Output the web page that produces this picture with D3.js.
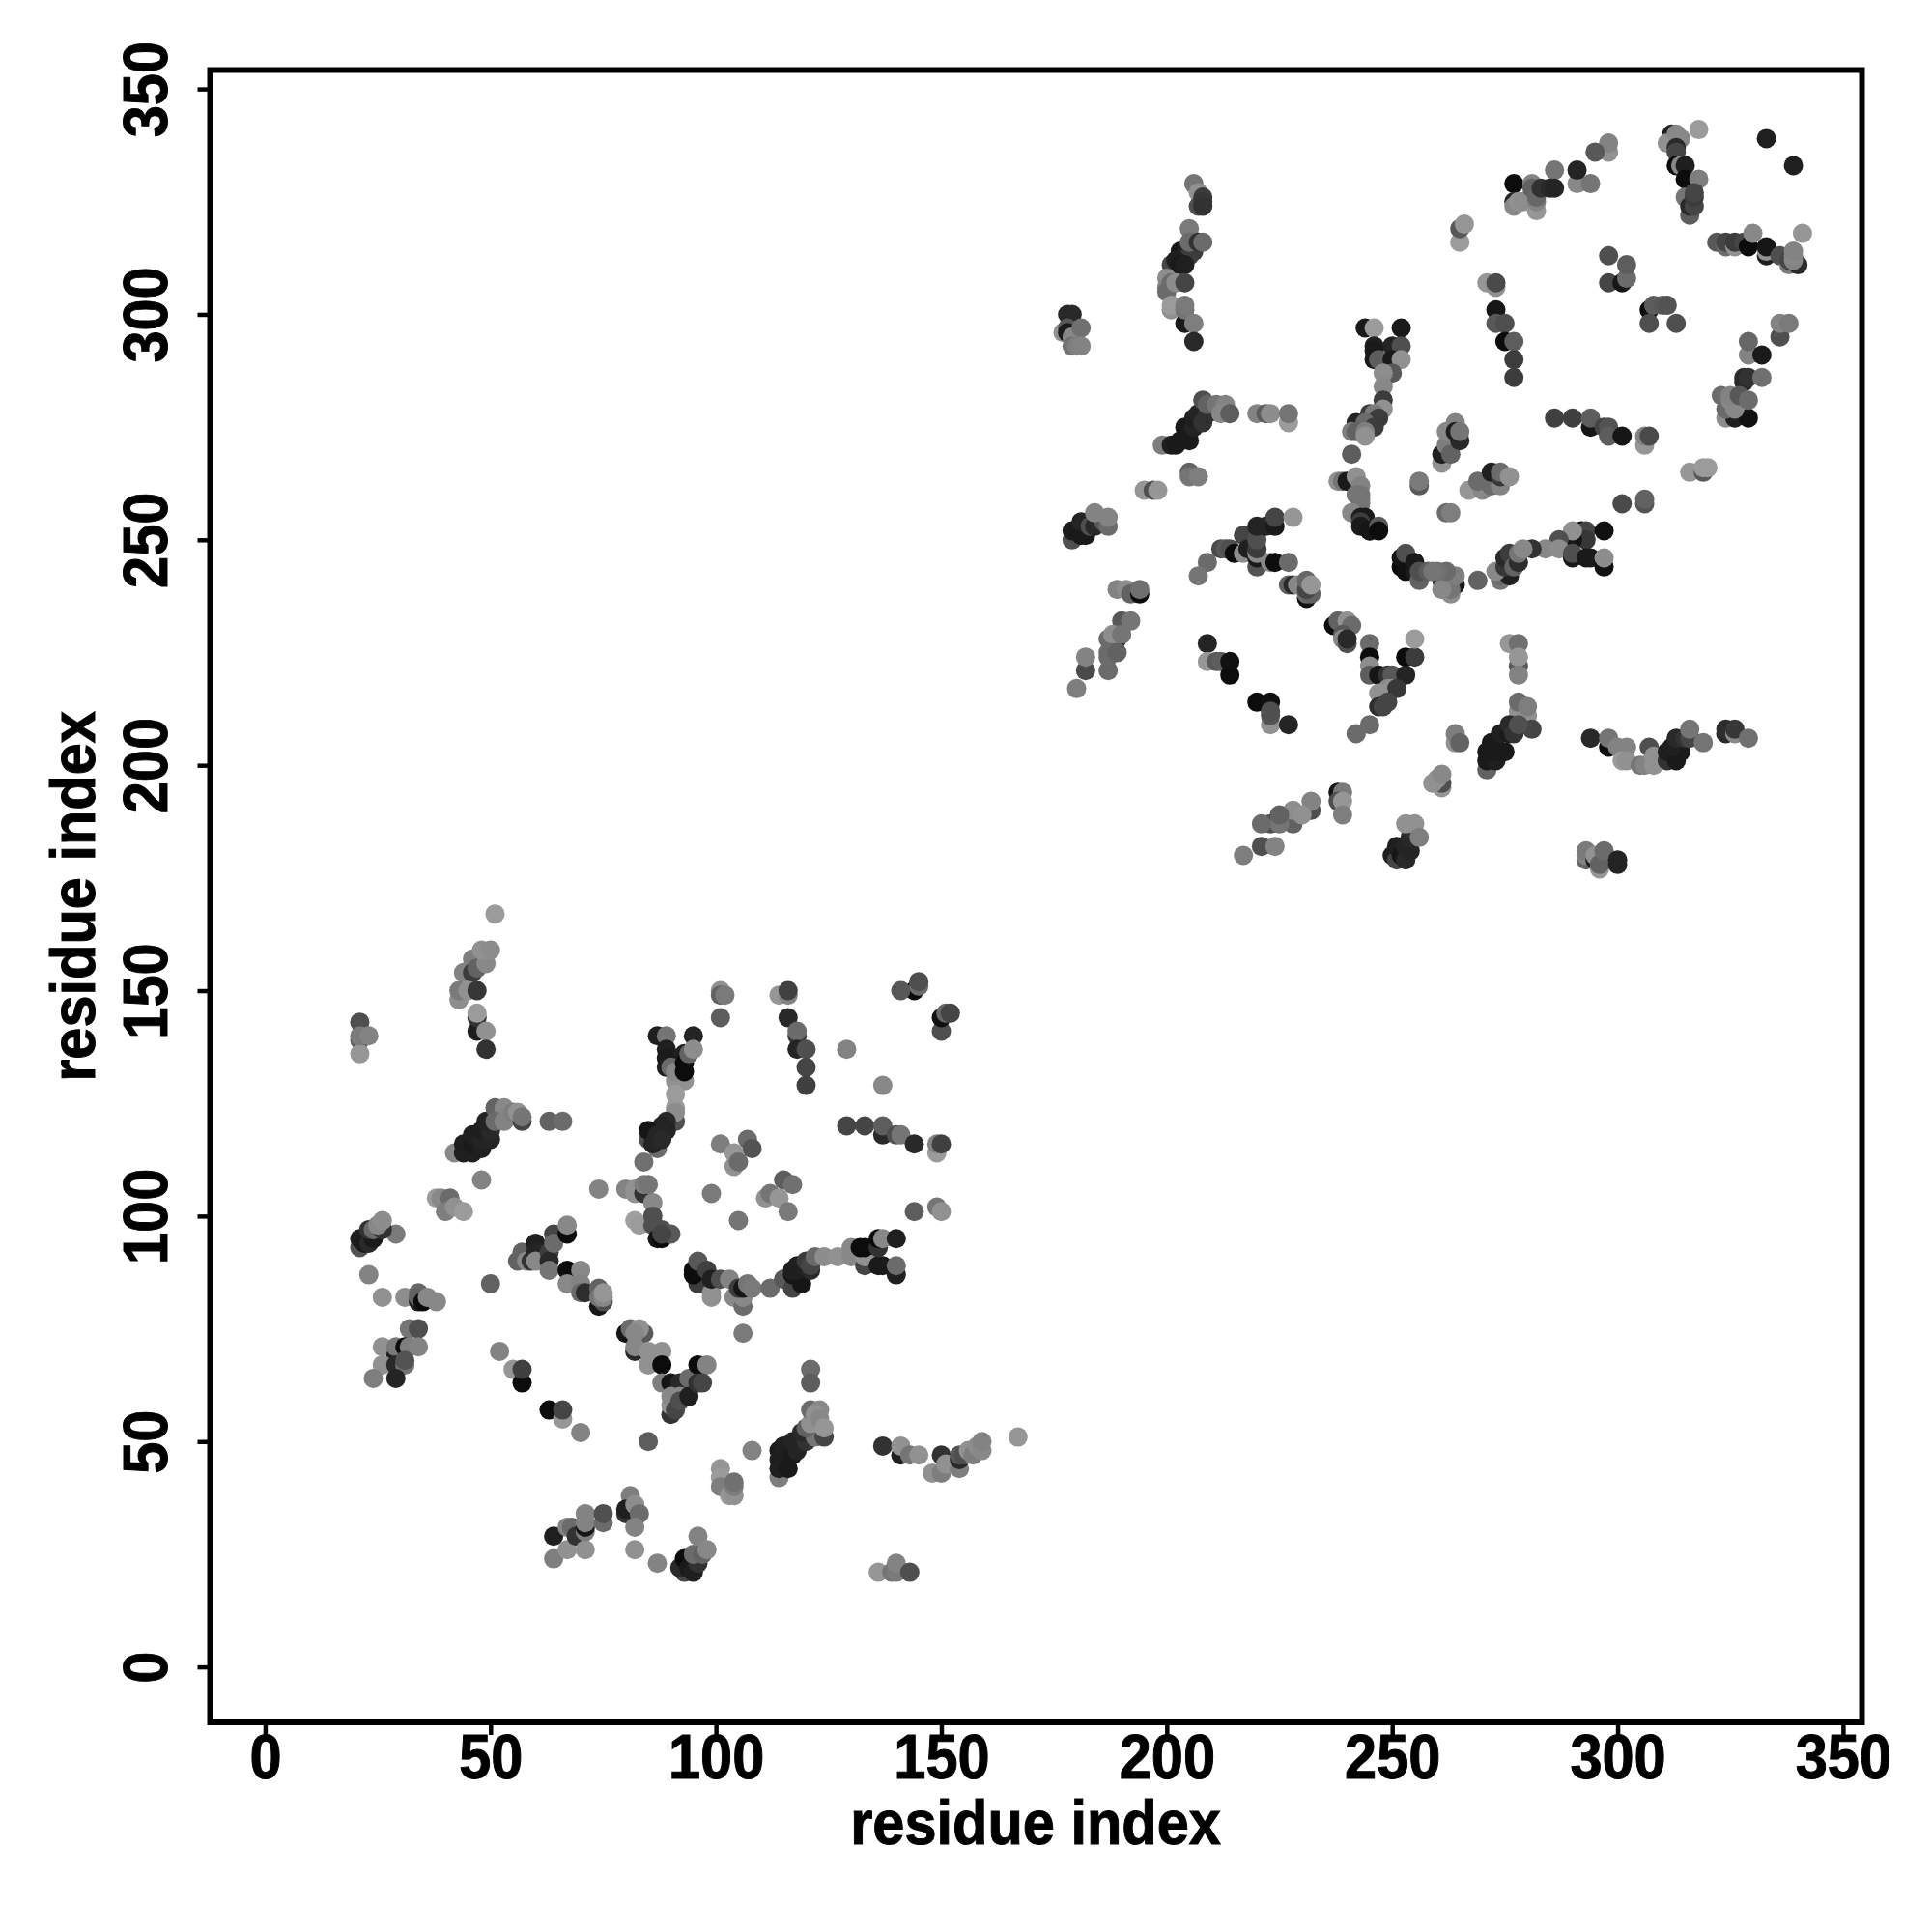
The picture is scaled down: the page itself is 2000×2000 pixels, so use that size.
<!DOCTYPE html>
<html><head><meta charset="utf-8">
<script src="https://cdn.jsdelivr.net/npm/d3@7"></script>
<style>html,body{margin:0;background:#fff}svg{display:block}text{font-family:"Liberation Sans",Arial,sans-serif;font-weight:700;fill:#000;stroke:#000;stroke-width:1px}</style>
</head><body><svg id="c" width="2000" height="2000"></svg>
<script>
const axisTicks=[0,50,100,150,200,250,300,350];
const axisTitle="residue index";
// each row: [residue x, residue y, grey level]
const domainAUpper=[[51,167,150],[46,157,120],[44,154,125],[46,154,50],[47,155,90],[49,156,130],[48,159,140],[50,159,135],[43,148,135],[43,150,115],[45,150,140],[47,150,45],[47,141,20],[47,144,40],[47,145,150],[49,141,140],[49,137,40],[21,143,70],[21,139,90],[21,136,145],[21,140,115],[23,140,125]];
const domainAHelix=[[42,114,130],[44,114,20],[46,114,20],[44,116,20],[46,116,15],[48,115,20],[46,118,20],[48,117,25],[48,119,20],[50,117,25],[50,119,30],[49,121,25],[51,124,90],[53,124,130],[51,121,100],[53,121,125],[55,123,120],[57,121,60],[56,123,140],[57,122,110],[63,121,90],[66,121,100]];
const domainAStrand=[[87,140,20],[89,140,110],[95,140,25],[89,137,20],[89,135,15],[89,133,20],[90,133,100],[93,130,140],[91,130,140],[91,132,130],[93,136,20],[93,134,0],[93,132,0],[94,136,90],[95,137,135],[91,127,150],[91,124,150],[91,121,70],[91,123,135],[85,117,70],[89,121,30],[88,120,25],[85,119,10],[89,119,25],[87,118,25],[87,115,100],[86,116,25],[88,117,30],[84,112,105],[74,106,125],[80,106,125],[82,106,140],[82,105,140],[84,105,40],[84,107,120],[85,107,110],[82,99,155],[83,98,150],[86,103,130],[86,100,70],[86,98,70],[87,95,10],[88,95,0],[88,97,70],[90,96,80],[88,96,60],[48,108,125],[38,104,150],[39,104,130],[41,104,100],[40,101,120],[42,102,140],[44,101,150],[29,96,115],[21,93,75],[21,95,20],[22,94,15],[23,94,30],[24,95,15],[23,97,40],[24,97,100],[26,97,40],[25,98,130],[26,99,135]];
const domainACentre=[[56,90,90],[57,92,90],[58,90,130],[59,90,40],[60,94,20],[60,92,25],[60,90,130],[64,96,60],[63,92,50],[63,90,30],[63,88,110],[64,94,100],[67,96,0],[67,98,130],[23,87,125],[26,82,140],[31,82,135],[34,81,20],[34,83,95],[34,82,90],[35,81,0],[36,82,130],[38,81,130],[32,75,110],[34,75,70],[26,71,140],[29,69,20],[29,71,115],[31,71,0],[32,71,120],[34,71,125],[26,67,140],[29,67,30],[31,67,110],[31,68,75],[29,64,25],[24,64,120],[50,85,90],[52,70,125],[55,66,145],[57,63,0],[57,66,55],[63,57,0],[66,55,145],[66,57,60],[70,52,125],[85,50,85],[67,88,0],[70,88,130],[67,85,130],[70,85,125],[70,83,100],[71,83,35],[74,84,90],[74,80,10],[75,81,70],[74,82,110],[75,82,130],[75,83,145]];
const domainALower=[[80,74,10],[81,75,100],[84,74,80],[83,75,140],[82,74,130],[82,70,30],[82,71,130],[85,70,140],[88,70,140],[85,67,140],[88,67,0],[88,63,120],[90,63,10],[92,63,30],[94,64,100],[90,56,40],[90,58,140],[90,60,130],[91,57,60],[92,60,130],[92,59,70],[94,60,20],[96,67,0],[98,67,125],[96,63,40],[97,63,60],[121,66,100],[121,63,85],[114,42,120],[114,48,15],[114,46,20],[114,44,20],[116,44,15],[115,49,20],[117,47,15],[118,48,25],[117,50,25],[120,50,40],[119,52,30],[122,51,110],[124,51,60],[120,53,90],[121,54,140],[121,57,100],[123,57,130],[122,56,140],[123,55,130],[124,53,145],[108,48,125],[101,44,145],[101,42,150],[101,40,120],[103,38,145],[104,38,140],[104,40,120],[104,41,105],[137,49,40],[141,47,20],[141,49,140],[143,47,110],[145,47,140],[150,47,40],[148,43,140],[150,43,120],[151,45,140],[154,44,120],[154,46,30],[154,47,80],[155,47,70],[156,48,140],[157,47,120],[158,49,135],[159,48,130],[159,50,125],[167,51,145],[136,21,145],[139,21,110],[140,21,115],[140,23,125],[143,21,70],[96,29,125],[93,21,60],[92,22,30],[93,24,0],[94,22,15],[95,21,20],[96,23,40],[95,25,100],[97,25,90],[98,26,130],[64,29,20],[64,24,120],[67,26,140],[67,31,125],[68,31,100],[69,29,40],[71,26,140],[71,30,120],[71,31,10],[71,32,125],[71,34,125],[75,32,100],[75,34,70],[81,38,120],[80,34,40],[80,35,20],[82,36,135],[83,34,100],[82,31,125],[82,26,140],[87,23,125]];
const domainARight=[[101,150,140],[101,149,90],[102,149,115],[101,144,85],[114,149,145],[116,149,125],[116,150,55],[116,144,30],[118,140,50],[118,141,100],[118,137,25],[120,137,70],[120,133,60],[120,129,55],[129,137,125],[137,129,130],[129,120,60],[133,120,60],[137,118,30],[137,120,85],[140,118,70],[141,118,110],[144,116,30],[149,114,150],[149,116,125],[150,116,55],[144,150,0],[141,150,80],[145,151,100],[145,152,70],[150,141,70],[150,144,5],[151,145,95],[152,145,60],[101,116,120],[107,117,100],[108,115,75],[104,114,145],[104,111,140],[105,112,100],[115,108,85],[117,107,105],[111,104,140],[112,105,110],[114,104,145],[116,101,115],[99,105,115],[105,99,110],[144,101,85],[149,102,110],[150,101,140]];
const domainAChain=[[96,85,50],[95,87,0],[95,88,0],[96,90,80],[98,88,55],[99,82,140],[99,83,140],[99,86,20],[101,86,70],[103,86,125],[104,82,130],[106,80,100],[106,82,130],[105,84,50],[106,84,10],[107,85,110],[108,84,115],[112,84,100],[106,74,115],[115,86,80],[117,84,60],[119,85,10],[117,87,10],[117,88,20],[118,88,20],[118,89,20],[121,88,30],[120,90,50],[121,89,60],[122,91,100],[124,91,135],[127,91,140],[130,91,130],[130,93,130],[133,89,60],[133,91,140],[132,93,0],[133,93,0],[136,89,15],[137,89,15],[136,93,40],[136,95,0],[137,95,130],[140,87,20],[140,89,100],[140,95,20]];
const domainBUpperLeft=[[206,329,110],[207,327,140],[207,324,70],[208,326,50],[208,325,45],[208,324,40],[205,319,115],[203,314,10],[204,313,25],[205,313,50],[206,314,50],[205,316,100],[207,316,40],[208,316,100],[201,311,60],[202,312,20],[203,311,15],[204,311,20],[200,308,135],[200,306,125],[200,305,100],[201,307,100],[202,307,135],[204,307,60],[201,301,140],[201,302,150],[204,298,15],[204,301,110],[204,302,115],[206,298,120],[206,294,30],[178,300,30],[179,300,30],[177,296,140],[178,297,80],[178,296,15],[179,295,130],[181,297,105],[179,293,105],[180,293,120],[181,293,125]];
const domainBHelix=[[199,271,120],[201,271,20],[202,271,15],[203,272,15],[205,272,15],[204,275,15],[206,275,25],[206,277,20],[207,278,25],[208,276,40],[209,278,40],[208,281,70],[209,280,90],[211,280,110],[213,280,125],[212,278,130],[214,278,85],[220,278,125],[222,278,85],[223,278,135],[227,276,150],[227,278,110],[205,265,90],[205,264,110],[207,264,120],[195,261,145],[197,261,70],[198,261,145]];
const domainBStrand=[[244,297,15],[246,297,150],[252,297,15],[250,293,25],[252,293,70],[246,293,20],[246,292,15],[246,290,15],[247,290,85],[250,290,15],[252,290,140],[250,287,80],[248,287,135],[248,284,130],[248,281,50],[245,278,50],[248,279,140],[246,278,115],[247,277,50],[242,276,25],[244,276,100],[246,275,50],[241,274,120],[242,274,90],[244,274,120],[244,273,140],[241,269,85],[238,263,140],[239,263,110],[240,263,15],[242,264,140],[243,262,125],[243,260,110],[242,260,110],[243,259,110],[243,258,110],[241,256,130],[243,255,20],[244,255,15],[243,254,50],[243,253,15],[245,252,0],[245,252,10],[247,253,80],[247,252,0],[256,262,80],[256,263,115]];
const domainBTopRight=[[333,339,20],[339,333,20],[318,341,150],[312,340,20],[311,338,140],[313,340,130],[314,339,130],[313,337,30],[313,336,60],[313,333,0],[314,333,130],[315,333,20],[315,330,0],[318,330,120],[315,326,110],[316,322,85],[316,324,30],[317,324,60],[317,326,50],[317,327,60],[298,336,140],[298,338,125],[295,336,80],[291,329,130],[291,332,25],[286,332,110],[294,329,110],[277,329,0],[277,325,25],[277,324,130],[278,325,140],[279,325,135],[281,329,125],[281,328,90],[282,323,145],[282,325,125],[282,326,95],[283,328,40],[285,328,30],[286,328,25],[265,316,150],[265,319,80],[266,320,145],[298,313,70],[298,307,60],[301,307,10],[302,308,100],[302,311,85],[307,301,0],[307,298,70],[313,298,70],[308,302,85],[310,302,80],[311,302,75],[271,307,145],[273,306,140],[273,307,65],[273,301,10],[273,298,80],[275,298,70],[275,294,0],[277,294,85],[277,290,50],[277,286,50],[286,277,55],[290,277,55],[294,275,10],[294,277,85],[297,275,60],[298,275,75],[298,273,85],[301,273,10],[306,271,145],[306,273,125],[307,273,65],[316,265,145],[319,265,80],[319,266,150],[320,266,150],[301,258,65],[306,258,75],[306,259,90]];
const domainBRight=[[341,318,145],[322,316,80],[324,315,100],[324,316,60],[326,315,140],[326,316,50],[328,316,60],[329,315,0],[330,318,130],[333,313,20],[333,314,140],[333,315,10],[336,313,70],[338,311,120],[340,311,30],[338,312,60],[339,312,125],[339,313,130],[339,314,125],[336,295,70],[336,298,125],[338,298,115],[329,291,125],[329,294,95],[332,291,15],[328,285,30],[328,286,30],[329,286,40],[332,286,105],[323,282,100],[324,277,135],[326,277,20],[329,277,5],[324,279,100],[326,279,130],[325,281,130],[325,282,125],[327,282,80],[329,281,100],[261,267,140],[261,269,20],[262,271,120],[263,269,90],[265,272,30],[262,274,130],[264,276,125],[264,274,20],[265,274,110],[269,262,30],[270,262,140],[267,261,145],[270,261,130],[269,263,100],[272,262,100],[274,262,125],[272,265,20],[274,264,45],[274,265,100],[276,264,140],[262,256,100],[263,256,120]];
const domainBLowerLeft=[[179,250,70],[179,252,20],[180,252,15],[181,251,15],[182,251,15],[181,254,25],[183,253,70],[184,253,30],[186,254,80],[184,256,125],[187,253,100],[187,255,125],[189,239,125],[191,239,135],[192,238,90],[194,238,0],[194,239,105],[190,232,80],[192,232,110],[187,228,100],[189,228,10],[188,229,135],[190,229,110],[187,224,100],[187,225,100],[189,225,90],[187,221,100],[182,221,65],[182,224,125],[180,217,120],[209,227,25],[209,223,145],[211,223,80],[212,223,85],[214,220,0],[214,223,5],[220,214,0],[223,214,5],[223,209,140],[223,211,75],[223,212,70],[227,209,25],[209,245,100],[207,242,110]];
const domainBCentre=[[212,248,65],[213,248,80],[214,248,70],[215,247,0],[217,247,135],[217,251,60],[218,248,20],[220,244,75],[220,246,15],[220,247,130],[220,248,50],[220,250,70],[220,253,25],[222,253,25],[224,253,15],[224,255,60],[228,255,145],[223,245,130],[224,245,0],[227,245,100],[227,240,90],[228,240,30],[229,240,130],[231,237,5],[231,238,100],[232,238,90],[231,239,60],[231,241,95],[232,240,145],[237,231,0],[238,232,90],[240,232,140],[241,231,100],[239,229,80],[239,228,130],[240,227,70],[240,228,30],[245,227,100],[245,224,0],[245,222,135],[245,220,85],[247,220,10],[249,220,40],[250,220,80],[253,220,25],[253,224,0],[255,224,50],[255,228,150],[249,217,130],[250,217,140],[251,217,45],[247,216,140],[247,213,35],[248,213,60],[249,214,60],[245,209,100],[242,207,100]];
const domainBBottom=[[238,194,10],[239,194,115],[238,192,70],[239,192,145],[239,189,120],[232,190,70],[232,192,125],[228,187,90],[228,190,135],[230,189,140],[223,187,70],[225,187,110],[225,189,90],[221,187,100],[221,182,70],[224,182,125],[217,180,120],[250,180,20],[251,179,60],[251,182,20],[252,180,10],[253,179,30],[253,182,25],[254,181,25],[254,184,30],[254,186,40],[253,187,140],[255,187,140],[256,184,120],[294,206,30],[298,204,0],[298,206,110],[300,204,125],[302,204,125],[301,201,150],[302,201,140],[305,200,110],[306,200,125],[307,204,70],[308,200,140],[308,202,140],[311,201,40],[311,203,20],[313,201,15],[314,203,15],[312,204,20],[313,206,30],[315,206,40],[316,206,60],[316,208,110],[319,205,110],[324,207,30],[324,208,35],[326,207,130],[326,208,45],[329,206,105],[276,227,145],[278,227,105],[278,222,80],[278,224,145],[278,220,125],[278,209,130],[278,212,140],[278,214,100],[280,211,140],[280,213,120],[281,208,60],[271,199,90],[271,201,15],[273,201,20],[271,203,15],[273,203,15],[275,203,15],[272,205,15],[274,207,20],[276,207,15],[276,209,30],[277,207,40],[278,209,70],[264,205,140],[264,207,120],[265,205,90],[261,195,145],[261,196,70],[259,196,140],[260,197,140],[261,198,130],[293,179,90],[293,180,125],[293,181,115],[295,179,20],[295,180,140],[296,177,145],[296,178,90],[297,179,90],[297,181,100],[300,178,25],[300,179,25]];
const domainBChain=[[269,241,90],[292,252,0],[293,252,60],[293,250,45],[297,252,5],[290,250,10],[290,252,140],[287,250,70],[284,248,130],[287,248,135],[281,248,40],[290,246,15],[290,247,70],[293,246,15],[294,246,15],[297,244,5],[297,246,135],[274,241,110],[274,242,100],[276,242,20],[273,243,130],[275,244,45],[275,246,30],[276,247,50],[277,244,90],[278,245,35],[278,247,110],[279,248,130],[264,240,15],[263,238,135],[261,241,30],[262,241,130],[263,239,110],[261,239,130],[264,242,120],[262,243,100],[260,243,105],[252,244,0],[252,246,10],[253,243,5],[253,247,70],[255,243,15],[255,245,15],[256,241,90],[256,243,70],[258,243,85],[259,243,110]];
const contactGroups=[domainAUpper,domainAHelix,domainAStrand,domainACentre,domainALower,domainARight,domainAChain,domainBUpperLeft,domainBHelix,domainBStrand,domainBTopRight,domainBRight,domainBLowerLeft,domainBCentre,domainBBottom,domainBChain];

const svg=d3.select("#c");
const x=d3.scaleLinear().domain([-12.2,354.2]).range([217.5,1927.5]);
const y=d3.scaleLinear().domain([-12.3,354.2]).range([1783,72.5]);
const shade=d3.scaleLinear().domain([0,255]).range(["#0c0c0c","#ffffff"]);
const squeeze="scale(0.93,1)";

svg.append("g").selectAll("g").data(contactGroups).join("g")
  .selectAll("circle").data(d=>d).join("circle")
  .attr("cx",d=>x(d[0])).attr("cy",d=>y(d[1])).attr("r",10).attr("fill",d=>shade(d[2]));

svg.append("rect").attr("x",217.5).attr("y",72.5).attr("width",1710).attr("height",1710.5)
  .attr("fill","none").attr("stroke","#000").attr("stroke-width",6);

const gx=svg.append("g").attr("transform","translate(0,1783)")
  .call(d3.axisBottom(x).tickValues(axisTicks).tickSize(13).tickFormat(d3.format("d")));
const gy=svg.append("g").attr("transform","translate(217.5,0)")
  .call(d3.axisLeft(y).tickValues(axisTicks).tickSize(13).tickFormat(d3.format("d")));
[gx,gy].forEach(g=>{g.select(".domain").remove();g.selectAll("line").attr("stroke","#000").attr("stroke-width",4.5);
  g.selectAll("text").style("font-size","64px").style("font-family",'"Liberation Sans"').style("font-weight",700).attr("fill","#000");});
gx.selectAll("text").attr("y",58).attr("dy",null).attr("transform",squeeze);
gy.selectAll("text").attr("x",null).attr("y",null).attr("dy",null).attr("text-anchor","middle")
  .attr("transform","translate(-45,0) rotate(-90) "+squeeze);

svg.append("text").attr("transform","translate(1072,1909) "+squeeze).attr("text-anchor","middle").style("font-size","64px").text(axisTitle);
svg.append("text").attr("transform","translate(98,928) rotate(-90) "+squeeze).attr("text-anchor","middle").style("font-size","64px").text(axisTitle);
</script></body></html>
